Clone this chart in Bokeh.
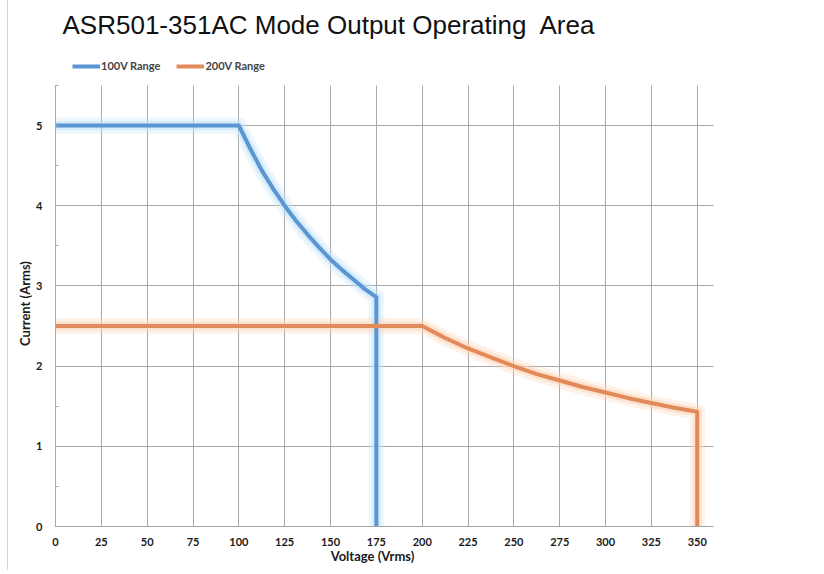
from bokeh.plotting import figure
from bokeh.models import Range1d, SingleIntervalTicker, Label, Legend, LegendItem
from bokeh.embed import file_html
from bokeh.resources import INLINE
import math

title_text = "ASR501-351AC Mode Output Operating\u00a0 Area"
x_label = "Voltage (Vrms)"
y_label = "Current (Arms)"
series_names = ["100V Range", "200V Range"]

# 100V range: voltage (Vrms) and current (Arms)
v100 = [0, 100, 106.25, 112.5, 118.75, 125, 131.25, 137.5, 143.75, 150, 156.25, 162.5, 168.75, 175, 175]
i100 = [5.0, 5.0, 4.71, 4.44, 4.21, 4.0, 3.81, 3.64, 3.48, 3.33, 3.2, 3.08, 2.96, 2.86, 0.0]
# 200V range
v200 = [0, 200, 212.5, 225, 237.5, 250, 262.5, 275, 287.5, 300, 312.5, 325, 337.5, 350, 350]
i200 = [2.5, 2.5, 2.35, 2.22, 2.11, 2.0, 1.9, 1.82, 1.74, 1.67, 1.6, 1.54, 1.48, 1.43, 0.0]

x_axis_span = (0, 359)     # extent of the chart's axis / grid (Vrms)
y_axis_span = (0, 5.5)     # extent of the chart's axis / grid (Arms)

blue = "#5b96d2"
blue_glow = "#bfe0f9"
orange = "#e28a59"
orange_glow = "#fbd3b5"
grid_col = "#a8a8a8"
tick_font = "Lato"
text_col = "#1a1a1a"

W, H = 808, 570
left_px, bottom_px = 47, 44          # where data (0,0) sits inside the canvas
px_x, px_y = 1.8335, 80.2            # pixels per unit

p = figure(width=W, height=H, output_backend="svg", toolbar_location=None,
           x_range=Range1d(-left_px / px_x, (W - left_px) / px_x),
           y_range=Range1d(-bottom_px / px_y, (H - bottom_px) / px_y),
           min_border_left=0, min_border_right=0, min_border_top=0, min_border_bottom=0)
p.outline_line_color = None
p.background_fill_color = "white"
p.border_fill_color = "white"

for xs, ys, c, g in [(v100, i100, blue, blue_glow), (v200, i200, orange, orange_glow)]:
    p.line(xs, ys, line_width=16, color=g, alpha=0.3, line_join="round")
    p.line(xs, ys, line_width=9, color=g, alpha=0.5, line_join="round")
r_blue = p.line(v100, i100, line_width=4, color=blue, line_join="round")
r_orange = p.line(v200, i200, line_width=4, color=orange, line_join="round")

# axes placed at data zero
xa = p.xaxis[0]
xa.ticker = SingleIntervalTicker(interval=25, num_minor_ticks=0)
ya = p.yaxis[0]
ya.ticker = SingleIntervalTicker(interval=1, num_minor_ticks=2)
xa.fixed_location = 0
ya.fixed_location = 0
xa.bounds = x_axis_span
ya.bounds = y_axis_span
for ax in (xa, ya):
    ax.axis_line_color = grid_col
    ax.major_tick_line_color = None
    ax.major_label_text_font = tick_font
    ax.major_label_text_font_style = "bold"
    ax.major_label_text_font_size = "11px"
    ax.major_label_text_color = text_col
xa.minor_tick_line_color = None
ya.minor_tick_line_color = grid_col
ya.minor_tick_in = 3
ya.minor_tick_out = 0
xa.major_label_standoff = 5
ya.major_label_standoff = 7

p.xgrid.ticker = xa.ticker
p.ygrid.ticker = ya.ticker
p.xgrid.bounds = x_axis_span
p.ygrid.bounds = y_axis_span
p.xgrid.cross_bounds = y_axis_span
p.ygrid.cross_bounds = x_axis_span
p.xgrid.grid_line_color = grid_col
p.ygrid.grid_line_color = grid_col

# texts (screen units relative to the canvas: y measured from the bottom)
p.add_layout(Label(x=54, y=H - 24, x_units="screen", y_units="screen", text=title_text,
                   text_font="Liberation Sans", text_font_size="26px",
                   text_baseline="alphabetic", text_color="#111111"))
p.add_layout(Label(x=364, y=H - 555, x_units="screen", y_units="screen", text=x_label,
                   text_font=tick_font, text_font_style="bold", text_font_size="13px",
                   text_align="center", text_baseline="middle", text_color=text_col))
p.add_layout(Label(x=16, y=H - 303, x_units="screen", y_units="screen", text=y_label,
                   text_font=tick_font, text_font_style="bold", text_font_size="13px",
                   angle=math.pi / 2, text_align="center", text_baseline="middle",
                   text_color=text_col))

legend = Legend(items=[LegendItem(label=series_names[0], renderers=[r_blue]),
                       LegendItem(label=series_names[1], renderers=[r_orange])],
                orientation="horizontal", location=(64, H - 72),
                label_text_font=tick_font, label_text_font_style="bold",
                label_text_font_size="11px", label_height=12, glyph_height=12,
                glyph_width=28, spacing=16, padding=0, margin=0, label_standoff=1,
                border_line_color=None, background_fill_alpha=0)
p.add_layout(legend)

p.styles = {"margin-left": "7px", "border-left": "1px solid #d4d4d4"}

open("out.html", "w").write(file_html(p, INLINE))
